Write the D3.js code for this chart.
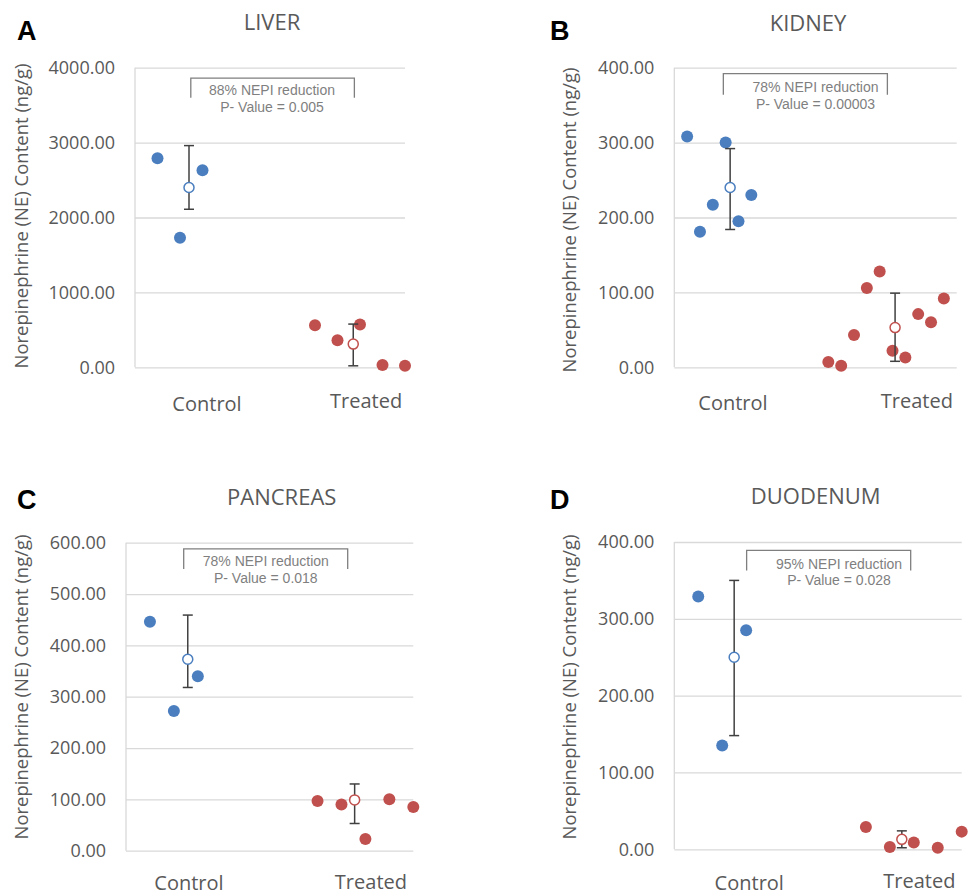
<!DOCTYPE html>
<html>
<head>
<meta charset="utf-8">
<script src="https://cdn.jsdelivr.net/npm/d3@7"></script>
<style>
  body { margin: 0; background: #fff; }
  svg { display: block; }
</style>
</head>
<body>
<svg id="fig" width="969" height="896"></svg>
<script>
// chart data
const categories = ["Control", "Treated"];
const panelLetters = ["A", "B", "C", "D"];
const organs = ["LIVER", "KIDNEY", "PANCREAS", "DUODENUM"];
const yMax = [4000, 400, 600, 400];
const yStep = [1000, 100, 100, 100];

// individual animals (x = slot along the axis, v = NE content)
const liverCtrlX = [1, 2, 3];
const liverCtrl = [2790, 1730, 2630];
const liverTrtX = [8, 9, 10, 11, 12];
const liverTrt = [560, 360, 570, 30, 20];

const kidneyCtrlX = [1, 2, 3, 4, 5, 6];
const kidneyCtrl = [308, 181, 217, 300, 195, 230];
const kidneyTrtX = [12, 13, 14, 15, 16, 17, 18, 19, 20, 21];
const kidneyTrt = [7, 2, 43, 106, 128, 22, 13, 71, 60, 92];

const pancCtrlX = [1, 2, 3];
const pancCtrl = [446, 272, 340];
const pancTrtX = [8, 9, 10, 11, 12];
const pancTrt = [97, 90, 23, 100, 85];

const duoCtrlX = [1, 2, 3];
const duoCtrl = [329, 135, 285];
const duoTrtX = [8, 9, 10, 11, 12];
const duoTrt = [29, 3, 9, 2, 23];

// group means with error bar ends [control, treated]
const liverMean = [2400, 310], liverLo = [2110, 20], liverHi = [2960, 577];
const kidneyMean = [240, 53], kidneyLo = [184, 8], kidneyHi = [292, 99];
const pancMean = [373, 99], pancLo = [318, 53], pancHi = [459, 130];
const duoMean = [250, 13], duoLo = [148, 2], duoHi = [350, 24];

const reduction = ["88%", "78%", "78%", "95%"];
const pValues = ["0.005", "0.00003", "0.018", "0.028"];

// layout for each panel (pixels + x-domain units)
const layout = [
  {left: 135, right: 405, top: 67.7, bottom: 367.3, xMax: 12, meanX: [2.4, 9.7],
   labX: [3.2, 10.27], labDy: [43.5, 41], titleX: 272, titleY: 30, letterX: 17, letterY: 40, yTitleX: 22, yTitleY: 216,
   br: [2.48, 9.75], brTop: 3861, brLeg: 3600, noteX: 6.09, noteDy: [16.5, 33.5]},
  {left: 674.3, right: 956.7, top: 67.7, bottom: 367.3, xMax: 22, meanX: [4.35, 17.2],
   labX: [4.57, 18.9], labDy: [43, 41], titleX: 808, titleY: 30.5, letterX: 550, letterY: 40, yTitleX: 570, yTitleY: 220,
   br: [3.82, 16.6], brTop: 392, brLeg: 364, noteX: 11.0, noteDy: [18.5, 35.5]},
  {left: 126, right: 413.3, top: 542.7, bottom: 850.7, xMax: 12, meanX: [2.58, 9.55],
   labX: [2.63, 10.23], labDy: [39.5, 38.5], titleX: 281.7, titleY: 505, letterX: 17, letterY: 509, yTitleX: 22, yTitleY: 687,
   br: [2.41, 9.26], brTop: 588, brLeg: 549, noteX: 5.84, noteDy: [17, 33.7]},
  {left: 674.3, right: 961.7, top: 542, bottom: 849.3, xMax: 12, meanX: [2.5, 9.5],
   labX: [3.13, 10.23], labDy: [40.5, 39], titleX: 815.7, titleY: 504, letterX: 550, letterY: 508.5, yTitleX: 570, yTitleY: 687,
   br: [3.02, 9.87], brTop: 389, brLeg: 363, noteX: 6.88, noteDy: [18.7, 34.7]}
];

const groups = [
  [[liverCtrlX, liverCtrl], [liverTrtX, liverTrt]],
  [[kidneyCtrlX, kidneyCtrl], [kidneyTrtX, kidneyTrt]],
  [[pancCtrlX, pancCtrl], [pancTrtX, pancTrt]],
  [[duoCtrlX, duoCtrl], [duoTrtX, duoTrt]]
];
const means = [liverMean, kidneyMean, pancMean, duoMean];
const los = [liverLo, kidneyLo, pancLo, duoLo];
const his = [liverHi, kidneyHi, pancHi, duoHi];

const colors = ["#4a7ebf", "#c0504d"];
const txt = "#595959";
const sans = "'Open Sans', 'Noto Sans', sans-serif";

const svg = d3.select("#fig");

layout.forEach((L, p) => {
  const g = svg.append("g");
  const x = d3.scaleLinear().domain([0, L.xMax]).range([L.left, L.right]);
  const y = d3.scaleLinear().domain([0, yMax[p]]).range([L.bottom, L.top]);
  const ticks = d3.range(0, yMax[p] + 1, yStep[p]);

  // gridlines
  g.append("g")
    .attr("transform", `translate(${L.left},0)`)
    .call(d3.axisLeft(y).tickValues(ticks).tickSize(-(L.right - L.left)).tickFormat(d3.format(".2f")).tickPadding(20))
    .call(a => a.select(".domain").remove())
    .call(a => a.selectAll("line").attr("stroke", "#d9d9d9").attr("stroke-width", 1.3))
    .call(a => a.selectAll("text").attr("fill", txt).style("font-family", sans).style("font-size", "18px"));

  // left axis line
  g.append("line")
    .attr("x1", L.left).attr("x2", L.left)
    .attr("y1", y(yMax[p])).attr("y2", y(0))
    .attr("stroke", "#d9d9d9").attr("stroke-width", 1.3);

  // title + panel letter
  g.append("text").attr("x", L.titleX).attr("y", L.titleY)
    .attr("text-anchor", "middle").attr("fill", txt)
    .style("font-family", sans).style("font-size", "22px").text(organs[p]);
  g.append("text").attr("x", L.letterX).attr("y", L.letterY)
    .attr("fill", "#000").style("font-family", "'Liberation Sans', Arial, sans-serif")
    .style("font-weight", "bold").style("font-size", "27px").text(panelLetters[p]);

  // y title
  g.append("text")
    .attr("transform", `translate(${L.yTitleX},${L.yTitleY}) rotate(-90)`)
    .attr("text-anchor", "middle").attr("dy", "0.35em").attr("fill", txt)
    .style("font-family", sans).style("font-size", "18.5px")
    .text("Norepinephrine (NE) Content (ng/g)");

  // category labels
  categories.forEach((c, i) => {
    g.append("text").attr("x", x(L.labX[i])).attr("y", L.bottom + L.labDy[i])
      .attr("text-anchor", "middle").attr("fill", txt)
      .style("font-family", sans).style("font-size", "20px").text(c);
  });

  // bracket + note
  g.append("path")
    .attr("d", `M${x(L.br[0])},${y(L.brLeg)}V${y(L.brTop)}H${x(L.br[1])}V${y(L.brLeg)}`)
    .attr("fill", "none").attr("stroke", "#7f7f7f").attr("stroke-width", 1.3);
  const note = [reduction[p] + " NEPI reduction", "P- Value = " + pValues[p]];
  note.forEach((t, i) => {
    g.append("text").attr("x", x(L.noteX)).attr("y", y(L.brTop) + L.noteDy[i])
      .attr("text-anchor", "middle").attr("fill", "#7f7f7f")
      .style("font-family", "'Liberation Sans', Arial, sans-serif").style("font-size", "14px").text(t);
  });

  // points
  groups[p].forEach((grp, i) => {
    const pts = grp[0].map((xv, k) => ({x: xv, v: grp[1][k]}));
    g.append("g").selectAll("circle").data(pts).join("circle")
      .attr("cx", d => x(d.x)).attr("cy", d => y(d.v)).attr("r", 6)
      .attr("fill", colors[i]);
  });

  // error bars + mean markers
  categories.forEach((c, i) => {
    const mx = x(L.meanX[i]);
    const eb = g.append("g").attr("stroke", "#404040").attr("stroke-width", 1.5);
    eb.append("line").attr("x1", mx).attr("x2", mx).attr("y1", y(los[p][i])).attr("y2", y(his[p][i]));
    eb.append("line").attr("x1", mx - 5).attr("x2", mx + 5).attr("y1", y(los[p][i])).attr("y2", y(los[p][i]));
    eb.append("line").attr("x1", mx - 5).attr("x2", mx + 5).attr("y1", y(his[p][i])).attr("y2", y(his[p][i]));
    g.append("circle").attr("cx", mx).attr("cy", y(means[p][i])).attr("r", 5)
      .attr("fill", "#fff").attr("stroke", colors[i]).attr("stroke-width", 1.5);
  });
});
</script>
</body>
</html>
